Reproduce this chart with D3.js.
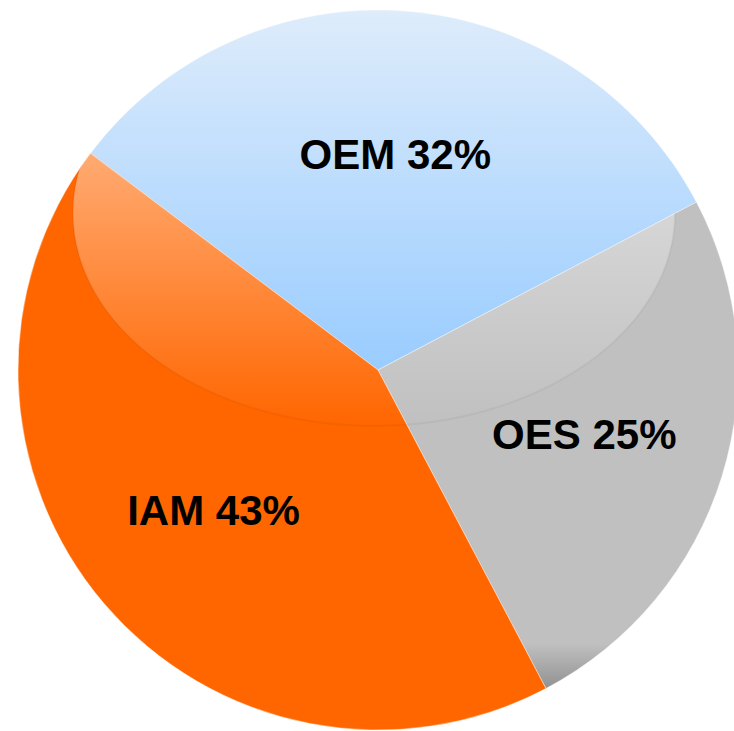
<!DOCTYPE html>
<html>
<head>
<meta charset="utf-8">
<script src="https://cdn.jsdelivr.net/npm/d3@7"></script>
<style>
    body { margin: 0; background: #fff; }
    text { font-family: "Liberation Sans", Arial, sans-serif; font-weight: bold; }
</style>
</head>
<body>
<div id="chart"></div>
<script>
const categories = ["OEM", "OES", "IAM"];
const shares = [32, 25, 43];
const sliceColors = ["#99ccff", "#c0c0c0", "#ff6600"];

const width = 734,
    height = 731,
    cx = 378,
    cy = 370,
    radius = 360;

const data = categories.map((c, i) => ({ name: c, value: shares[i], color: sliceColors[i] }));

const pie = d3
    .pie()
    .sort(null)
    .value((d) => d.value)
    .startAngle((-53 * Math.PI) / 180)
    .endAngle((-53 * Math.PI) / 180 + 2 * Math.PI);

const arc = d3.arc().innerRadius(0).outerRadius(radius);
const labelArc = d3.arc().innerRadius(radius * 0.6).outerRadius(radius * 0.6);

const svg = d3
    .select("#chart")
    .append("svg")
    .attr("width", width)
    .attr("height", height);

const defs = svg.append("defs");

// blue slice fades lighter toward the top (coords relative to pie centre)
const blueGrad = defs
    .append("linearGradient")
    .attr("id", "grad-OEM")
    .attr("gradientUnits", "userSpaceOnUse")
    .attr("x1", 0).attr("x2", 0)
    .attr("y1", -radius).attr("y2", 0);
blueGrad.append("stop").attr("offset", 0).attr("stop-color", "#deecfb");
blueGrad.append("stop").attr("offset", 1).attr("stop-color", "#99ccff");

// gray slice darkens at the bottom
const grayGrad = defs
    .append("linearGradient")
    .attr("id", "grad-OES")
    .attr("gradientUnits", "userSpaceOnUse")
    .attr("x1", 0).attr("x2", 0)
    .attr("y1", 0).attr("y2", radius);
grayGrad.append("stop").attr("offset", 0).attr("stop-color", "#c0c0c0");
grayGrad.append("stop").attr("offset", 0.76).attr("stop-color", "#c0c0c0");
grayGrad.append("stop").attr("offset", 1).attr("stop-color", "#666666");

// glossy highlight
const gloss = defs
    .append("linearGradient")
    .attr("id", "gloss")
    .attr("gradientUnits", "userSpaceOnUse")
    .attr("x1", 0).attr("x2", 0)
    .attr("y1", 0).attr("y2", 426);
gloss.append("stop").attr("offset", 0).attr("stop-color", "#fff").attr("stop-opacity", 0.7);
gloss.append("stop").attr("offset", 1).attr("stop-color", "#fff").attr("stop-opacity", 0);

const arcs = pie(data);

arcs.forEach((d) => {
    defs.append("clipPath")
        .attr("id", "clip-" + d.data.name)
        .append("path")
        .attr("transform", `translate(${cx},${cy})`)
        .attr("d", arc(d));
});

const g = svg.append("g").attr("transform", `translate(${cx},${cy})`);

g.selectAll("path.slice")
    .data(arcs)
    .join("path")
    .attr("class", "slice")
    .attr("d", arc)
    .attr("fill", (d) =>
        d.data.name == "OEM" ? "url(#grad-OEM)" : d.data.name == "OES" ? "url(#grad-OES)" : d.data.color
    )
    .attr("stroke", "#fff")
    .attr("stroke-opacity", 0.5)
    .attr("stroke-width", 0.8);

// gloss ellipse on the orange and gray slices only
svg.append("g")
    .selectAll("ellipse")
    .data(arcs.filter((d) => d.data.name != "OEM"))
    .join("ellipse")
    .attr("clip-path", (d) => `url(#clip-${d.data.name})`)
    .attr("cx", 374)
    .attr("cy", 213)
    .attr("rx", 301)
    .attr("ry", 213)
    .attr("fill", "url(#gloss)")
    .attr("stroke", "rgba(0,0,0,0.04)")
    .attr("stroke-width", 2);

g.selectAll("text")
    .data(arcs)
    .join("text")
    .attr("transform", (d) => `translate(${labelArc.centroid(d)})`)
    .attr("text-anchor", "middle")
    .attr("dy", "0.35em")
    .attr("font-size", 42)
    .attr("fill", "#000")
    .text((d) => `${d.data.name} ${d.data.value}%`);
</script>
</body>
</html>
